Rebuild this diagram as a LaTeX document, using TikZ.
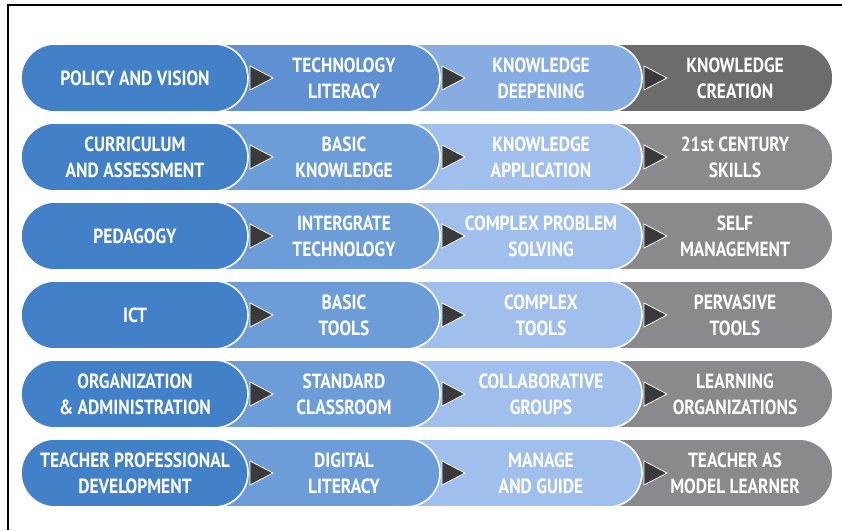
\documentclass[tikz,border=0pt]{standalone}
\usepackage{fontspec}
\setmainfont{PT Sans}[FakeStretch=0.85]
\usetikzlibrary{positioning}

\definecolor{colAt}{RGB}{66,128,199}
\definecolor{colAn}{RGB}{66,128,199}
\definecolor{colBt}{RGB}{94,144,210}
\definecolor{colBn}{RGB}{108,157,216}
\definecolor{colCt}{RGB}{135,172,226}
\definecolor{colCn}{RGB}{160,191,236}
\definecolor{colDt}{RGB}{108,108,108}
\definecolor{colDn}{RGB}{138,138,140}
\definecolor{tipgray}{RGB}{58,58,60}

% one row: y, colour key, four labels
\newcommand{\ictrow}[6]{
  % segments, right to left so the left one lies on top
  \path[segbox, fill=colD#2] (600,#1-34) -- (799,#1-34)
    arc[start angle=-90, end angle=90, radius=34] -- (600,#1+34) -- cycle;
  \path[segbox, fill=colC#2] (400,#1-34) -- (608,#1-34)
    arc[start angle=-90, end angle=90, radius=34] -- (400,#1+34) -- cycle;
  \path[segbox, fill=colB#2] (210,#1-34) -- (406,#1-34)
    arc[start angle=-90, end angle=90, radius=34] -- (210,#1+34) -- cycle;
  \path[segbox, fill=colA#2] (55,#1-34) -- (214,#1-34)
    arc[start angle=-90, end angle=90, radius=34] -- (55,#1+34)
    arc[start angle=90, end angle=270, radius=34] -- cycle;
  % arrow tips
  \path[tipbox] (250,#1+12) -- (273,#1) -- (250,#1-12) -- cycle;
  \path[tipbox] (442,#1+12) -- (465,#1) -- (442,#1-12) -- cycle;
  \path[tipbox] (644,#1+12) -- (667,#1) -- (644,#1-12) -- cycle;
  % labels
  \node[lbl] (area#1) at (135,#1) {#3};
  \node[lbl] (lit#1) at (344,#1) {#4};
  \node[lbl] (deep#1) at (541,#1) {#5};
  \node[lbl] (crea#1) at (735,#1) {#6};
}

\begin{document}
\begin{tikzpicture}[x=1pt,y=1pt,
segbox/.style={draw=white, line width=1.6pt},
tipbox/.style={fill=tipgray, draw=white, line width=0.8pt},
lbl/.style={text=white,
  font=\bfseries\fontsize{20.5}{26}\selectfont,
  align=center,
  inner sep=0pt},
]
\useasboundingbox (0,0) rectangle (842,530);
\draw[line width=1.4pt] (8,0) -- (8,525) -- (842,525);

\ictrow{452}{t}{POLICY AND VISION}{TECHNOLOGY\\LITERACY}{KNOWLEDGE\\DEEPENING}{KNOWLEDGE\\CREATION}
\ictrow{373}{n}{CURRICULUM\\AND ASSESSMENT}{BASIC\\KNOWLEDGE}{KNOWLEDGE\\APPLICATION}{21st CENTURY\\SKILLS}
\ictrow{294}{n}{PEDAGOGY}{INTERGRATE\\TECHNOLOGY}{COMPLEX PROBLEM\\SOLVING}{SELF\\MANAGEMENT}
\ictrow{215}{n}{ICT}{BASIC\\TOOLS}{COMPLEX\\TOOLS}{PERVASIVE\\TOOLS}
\ictrow{136}{n}{ORGANIZATION\\\& ADMINISTRATION}{STANDARD\\CLASSROOM}{COLLABORATIVE\\GROUPS}{LEARNING\\ORGANIZATIONS}
\ictrow{57}{n}{TEACHER PROFESSIONAL\\DEVELOPMENT}{DIGITAL\\LITERACY}{MANAGE\\AND GUIDE}{TEACHER AS\\MODEL LEARNER}
\end{tikzpicture}
\end{document}
